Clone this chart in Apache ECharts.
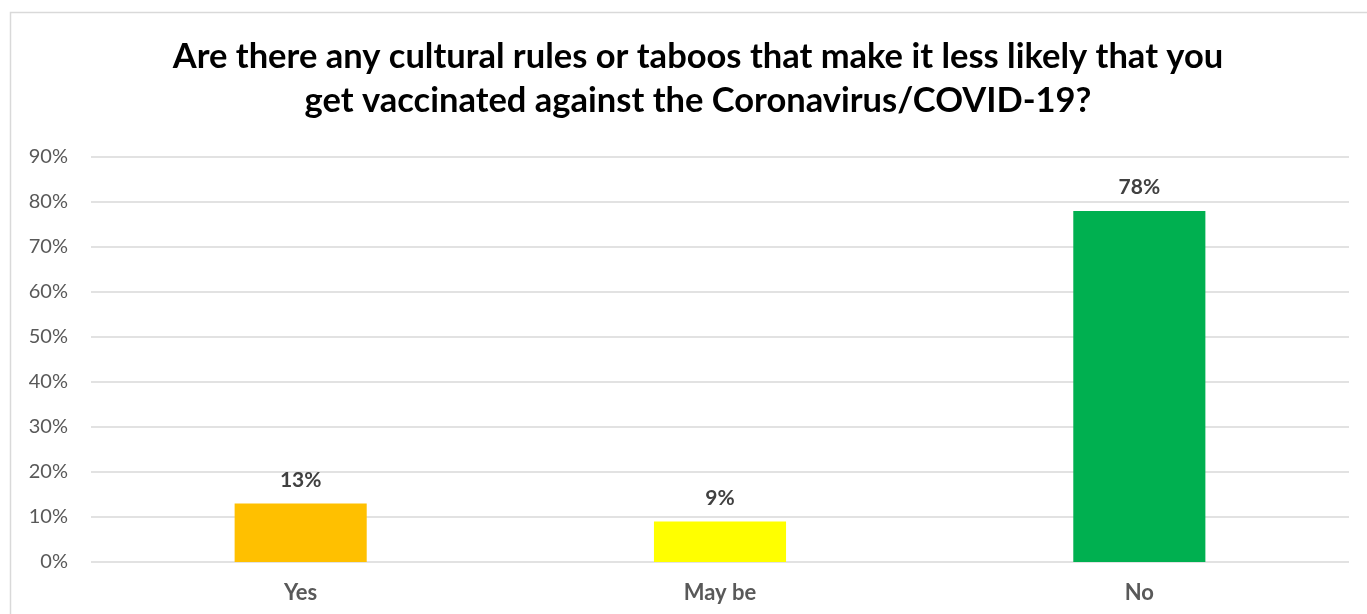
<!DOCTYPE html>
<html>
<head>
<meta charset="utf-8">
<script src="https://cdn.jsdelivr.net/npm/echarts@6/dist/echarts.min.js"></script>
<style>
  html, body { margin: 0; padding: 0; background: #fff; }
  #chart { width: 1367px; height: 614px; }
</style>
</head>
<body>
<div id="chart"></div>
<script>
// Survey answers and their shares (percent)
const categories = ['Yes', 'May be', 'No'];
const shares = [13, 9, 78];
const barColors = ['#FFC000', '#FFFF00', '#00B050'];
const yTicks = [0, 10, 20, 30, 40, 50, 60, 70, 80, 90];

const titleText = 'Are there any cultural rules or taboos that make it less likely that you\nget vaccinated against the Coronavirus/COVID-19?';
const font = 'Lato, "Open Sans", sans-serif';

const chart = echarts.init(document.getElementById('chart'), null, { renderer: 'canvas' });

chart.setOption({
  backgroundColor: '#fff',
  animation: false,
  graphic: [{
    type: 'rect',
    shape: { x: 10.5, y: 12.5, width: 1400, height: 700 },
    style: { fill: 'none', stroke: '#d9d9d9', lineWidth: 1.5 },
    silent: true
  }],
  title: {
    text: titleText,
    left: 693,
    top: 30,
    textAlign: 'center',
    textStyle: {
      fontFamily: font,
      fontWeight: 'bold',
      fontSize: 34.5,
      lineHeight: 44,
      color: '#000'
    }
  },
  grid: {
    left: 91,
    right: 18,
    top: 157,
    bottom: 52,
    containLabel: false
  },
  xAxis: {
    type: 'category',
    data: categories,
    axisLine: { show: false },
    axisTick: { show: false },
    axisLabel: {
      margin: 20,
      fontFamily: font,
      fontWeight: 'bold',
      fontSize: 22,
      color: '#595959'
    }
  },
  yAxis: {
    type: 'value',
    min: yTicks[0],
    max: yTicks[yTicks.length - 1],
    interval: 10,
    axisLine: { show: false },
    axisTick: { show: false },
    splitLine: { lineStyle: { color: '#d9d9d9', width: 1.5 } },
    axisLabel: {
      margin: 23,
      fontFamily: font,
      fontSize: 20,
      color: '#595959',
      formatter: v => v + '%'
    }
  },
  series: [{
    type: 'bar',
    barWidth: '31.5%',
    data: shares.map((v, i) => ({ value: v, itemStyle: { color: barColors[i] } })),
    label: {
      show: true,
      position: 'top',
      distance: 13,
      fontFamily: font,
      fontWeight: 'bold',
      fontSize: 21,
      color: '#404040',
      formatter: p => p.value + '%'
    }
  }]
});
</script>
</body>
</html>
